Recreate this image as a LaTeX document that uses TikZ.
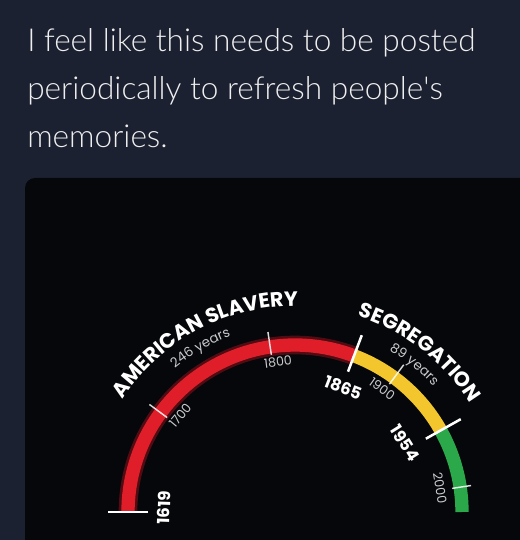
\documentclass[tikz,border=0pt]{standalone}
\usepackage{fontspec}
\setmainfont{Lato}[UprightFont=* Light]
\newfontfamily\gaugefont{Poppins}
\usepackage{tikz}
\usetikzlibrary{calc,decorations.text}
\definecolor{navybg}{HTML}{1C2131}
\definecolor{cardbg}{HTML}{06070A}
\definecolor{slaveryred}{HTML}{E01E2A}
\definecolor{glowred}{HTML}{C0141E}
\definecolor{segyellow}{HTML}{F2C62C}
\definecolor{nowgreen}{HTML}{2BA84A}
\definecolor{softgray}{HTML}{C9CACC}
\newcommand\erafont{\gaugefont\bfseries\fontsize{15.5}{15.5}\selectfont}
\newcommand\spanfont{\gaugefont\fontsize{10}{10}\selectfont}
\tikzset{
    %Define style for the tweet text
    tweet/.style={
           anchor=north west,
           inner sep=0pt,
           align=left,
           text=white!93!navybg,
           font=\fontsize{23.7}{36}\selectfont},
    %Define style for the time bands
    band/.style={
           line width=10pt,
           line cap=butt},
    glow/.style={
           line width=14pt,
           draw=glowred,
           draw opacity=.4},
    %Define style for ticks
    tickbold/.style={
           draw=white,
           line width=1.9pt},
    ticklight/.style={
           draw=white,
           draw opacity=.85,
           line width=1.1pt},
    %Define style for year labels
    yearbold/.style={
           inner sep=0pt,
           text=white,
           font=\gaugefont\bfseries\fontsize{12.5}{12.5}\selectfont},
    yearlight/.style={
           inner sep=0pt,
           text=softgray,
           font=\gaugefont\fontsize{9.5}{9.5}\selectfont}
}
\begin{document}
\begin{tikzpicture}[x=0.75pt,y=0.75pt]
\useasboundingbox (0,0) rectangle (520,540);
% backgrounds
\fill[navybg] (0,0) rectangle (520,540);
\fill[cardbg, rounded corners=7.5pt] (25,-20) rectangle (545,362);
% tweet
\node[tweet] (tweet) at (27,512) {I feel like this needs to be posted\\periodically to refresh people\textquotesingle s\\memories.};
% gauge
\coordinate (hub) at (295,28);
\draw[glow] ($(hub)+(180:167)$) arc[start angle=180, end angle=69.3, radius=167];
\draw[band, slaveryred] ($(hub)+(180:167)$) arc[start angle=180, end angle=69.3, radius=167];
\draw[band, segyellow] ($(hub)+(69.3:167)$) arc[start angle=69.3, end angle=29.25, radius=167];
\draw[band, nowgreen] ($(hub)+(29.25:167)$) arc[start angle=29.25, end angle=0, radius=167];
% ticks
\foreach \yr/\ri/\ro/\sty in {1619/147/187/tickbold, 1700/159/181/ticklight,
    1800/159/182/ticklight, 1865/150/189/tickbold, 1900/159/183/ticklight,
    1954/150/190/tickbold, 2000/159/178/ticklight}{
  \pgfmathsetmacro\ang{180-(\yr-1619)*0.45}
  \coordinate (in\yr) at ($(hub)+(\ang:\ri)$);
  \coordinate (out\yr) at ($(hub)+(\ang:\ro)$);
  \draw[\sty] (in\yr) -- (out\yr);
}
% years
\foreach \yr/\ang/\rad/\sty in {1619/178/131/yearbold, 1700/140/150/yearlight,
    1800/96.5/151/yearlight, 1865/68.8/133/yearbold, 1900/54.7/151/yearlight,
    1954/32.1/130/yearbold, 2000/9.4/147/yearlight}
  \node[\sty, rotate=\ang-90] (lbl\yr) at ($(hub)+(\ang:\rad)$) {\yr};
% eras
\path[decorate, decoration={text along path, text color=white, text align=center,
    text={|\erafont|AMERICAN SLAVERY}}]
    ($(hub)+(152:206)$) arc[start angle=152, end angle=84, radius=206];
\path[decorate, decoration={text along path, text color=softgray, text align=center,
    text={|\spanfont|246 years}}]
    ($(hub)+(135:187)$) arc[start angle=135, end angle=105, radius=187];
\path[decorate, decoration={text along path, text color=white, text align=center,
    text={|\erafont|SEGREGATION}}]
    ($(hub)+(75:206)$) arc[start angle=75, end angle=29, radius=206];
\path[decorate, decoration={text along path, text color=softgray, text align=center,
    text={|\spanfont|89 years}}]
    ($(hub)+(66:187)$) arc[start angle=66, end angle=36, radius=187];
\end{tikzpicture}
\end{document}
